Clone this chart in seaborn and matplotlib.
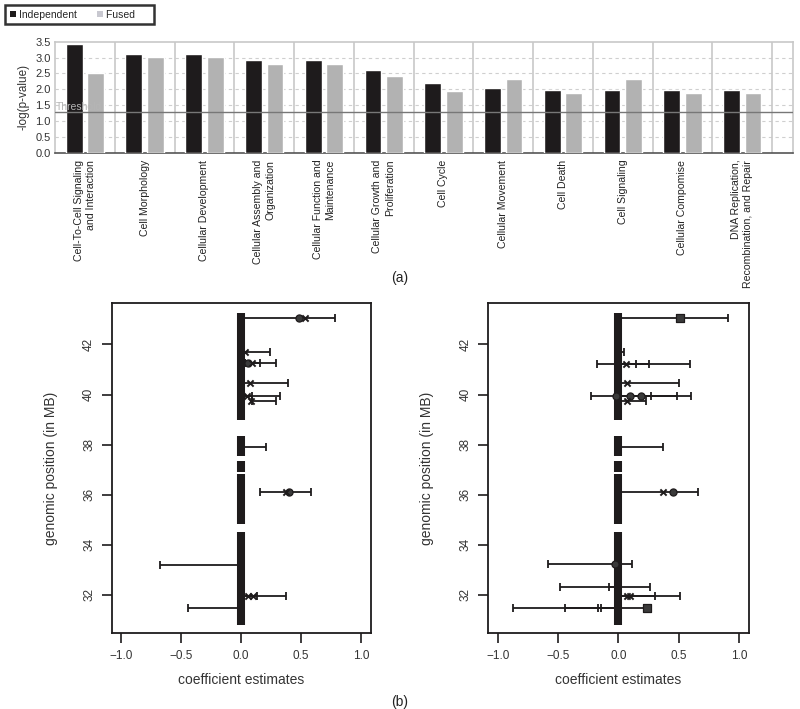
import numpy as np
import pandas as pd
import matplotlib
matplotlib.use("Agg")
import matplotlib.pyplot as plt
import seaborn as sns
from matplotlib.patches import Patch

# ---- panel (a) data ----
categories = [
    "Cell-To-Cell Signaling\nand Interaction", "Cell Morphology", "Cellular Development",
    "Cellular Assembly and\nOrganization", "Cellular Function and\nMaintenance",
    "Cellular Growth and\nProliferation", "Cell Cycle", "Cellular Movement", "Cell Death",
    "Cell Signaling", "Cellular Compomise", "DNA Replication,\nRecombination, and Repair",
]
independent = [3.42, 3.10, 3.10, 2.91, 2.91, 2.61, 2.19, 2.05, 1.97, 1.97, 1.97, 1.97]
fused = [2.50, 3.03, 3.03, 2.80, 2.80, 2.43, 1.96, 2.32, 1.87, 2.32, 1.87, 1.87]
threshold = 1.27

# ---- panel (b) data ----
# blocks of SNP positions (MB) shown as thick bar at 0
block_start = [43.26, 38.33, 37.34, 36.81, 34.53]
block_end = [38.97, 37.54, 36.90, 34.84, 30.80]

# independent (left): intervals
left_ci_y = [43.04, 41.70, 41.24, 41.24, 40.46, 39.96, 39.96, 39.73, 37.90, 36.10, 33.21, 31.97, 31.97, 31.49]
left_ci_lo = [0.0, 0.0, 0.03, 0.03, 0.0, 0.0, 0.0, 0.09, 0.0, 0.155, -0.68, 0.0, 0.0, -0.445]
left_ci_hi = [0.78, 0.24, 0.16, 0.29, 0.39, 0.09, 0.32, 0.29, 0.21, 0.585, 0.0, 0.13, 0.37, 0.0]
left_pt_y = [43.04, 43.04, 41.70, 41.24, 41.24, 40.46, 39.96, 39.73, 36.10, 36.10, 31.97, 31.97]
left_pt_x = [0.48, 0.53, 0.03, 0.06, 0.09, 0.07, 0.05, 0.08, 0.40, 0.37, 0.06, 0.10]
left_pt_m = ["o", "x", "x", "o", "x", "x", "x", "x", "o", "x", "x", "x"]

# fused (right): intervals
right_ci_y = [43.04, 41.70, 41.21, 41.21, 41.21, 40.46, 39.96, 39.96, 39.96, 39.73, 37.90, 36.10,
              33.24, 32.33, 32.33, 31.97, 31.97, 31.49, 31.49, 31.49, 31.49]
right_ci_lo = [0.0, 0.02, -0.18, 0.0, 0.0, 0.0, -0.23, 0.0, 0.0, 0.0, 0.0, 0.0,
               -0.58, -0.48, -0.08, 0.0, 0.0, -0.87, -0.44, -0.17, -0.14]
right_ci_hi = [0.91, 0.05, 0.59, 0.15, 0.255, 0.50, 0.60, 0.27, 0.49, 0.23, 0.37, 0.66,
               0.11, 0.26, 0.0, 0.51, 0.30, 0.24, 0.0, 0.0, 0.0]
right_pt_y = [43.04, 41.21, 40.46, 39.96, 39.96, 39.96, 39.73, 36.10, 36.10, 33.24, 31.97, 31.97, 31.49]
right_pt_x = [0.51, 0.06, 0.07, 0.10, 0.19, -0.02, 0.07, 0.37, 0.45, -0.03, 0.07, 0.10, 0.24]
right_pt_m = ["s", "x", "x", "o", "o", "o", "x", "x", "o", "o", "x", "x", "s"]

sns.set_theme(style="white")
plt.rcParams["font.family"] = ["Liberation Sans", "DejaVu Sans"]

W, H = 800, 709
fig = plt.figure(figsize=(8, 7.09), dpi=100)


def box(x0, y0, x1, y1):
    return [x0 / W, 1 - y1 / H, (x1 - x0) / W, (y1 - y0) / H]


# ================= panel (a) =================
ax = fig.add_axes(box(55, 41.7, 793, 152.7))
df = pd.DataFrame({
    "category": categories * 2,
    "value": independent + fused,
    "series": ["Independent"] * 12 + ["Fused"] * 12,
})
sns.barplot(data=df, x="category", y="value", hue="series",
            palette={"Independent": "#1e1b1c", "Fused": "#b2b2b2"},
            width=0.72, gap=0.22, saturation=1, ax=ax, legend=False, zorder=3)
ax.set_xlim(-0.5, 11.85)
ax.set_ylim(0, 3.5)
ax.set_yticks(np.arange(0, 3.51, 0.5))
ax.set_yticklabels([f"{v:.1f}" for v in np.arange(0, 3.51, 0.5)], fontsize=8, color="#333")
for v in np.arange(0.5, 3.5, 0.5):
    ax.axhline(v, color="#cfcfcf", ls=(0, (3, 3)), lw=0.8, zorder=1)
for i in range(12):
    ax.axvline(i + 0.5, color="#c8c8c8", lw=1.2, zorder=1)
ax.axhline(threshold, color="#777777", lw=1.0, zorder=4)
ax.text(-0.48, threshold + 0.01, "Threshold", fontsize=7.5, color="#b5b5b5", va="bottom", ha="left", zorder=5)
for s in ["top", "left", "right"]:
    ax.spines[s].set_color("#c8c8c8")
    ax.spines[s].set_linewidth(1.2)
ax.spines["bottom"].set_color("#555555")
ax.spines["bottom"].set_linewidth(1.2)
ax.tick_params(axis="both", length=0, pad=3)
ax.set_xticks(range(12))
ax.set_xticklabels(categories, rotation=90, fontsize=7.6, color="#222", va="top", ha="center",
                   multialignment="right", linespacing=1.3)
ax.tick_params(axis="x", pad=5)
ax.set_xlabel("")
ax.set_ylabel("-log(p-value)", fontsize=8.5, color="#333", labelpad=4)

handles = [Patch(facecolor="#1e1b1c", edgecolor="none", label="Independent"),
           Patch(facecolor="#c8c8d0", edgecolor="none", label="Fused     ")]
leg = fig.legend(handles=handles, loc="upper left", bbox_to_anchor=(5 / W, 1 - 5 / H), ncol=2,
                 fontsize=7.5, frameon=True, fancybox=False, handlelength=0.6, handleheight=0.6,
                 handletextpad=0.25, columnspacing=2.0, borderpad=0.45, borderaxespad=0)
leg.get_frame().set_edgecolor("black")
leg.get_frame().set_linewidth(1.8)

fig.text(0.5, 1 - 278 / H, "(a)", fontsize=10, ha="center", va="center", color="#222")


# ================= panel (b) =================
def coef_panel(ax, ci_y, ci_lo, ci_hi, pt_y, pt_x, pt_m):
    ax.vlines(np.zeros(len(block_start)), block_end, block_start, color="#1e1b1c", lw=5.8, zorder=2)
    lo = np.array(ci_lo)
    hi = np.array(ci_hi)
    ax.errorbar((lo + hi) / 2, ci_y, xerr=(hi - lo) / 2, fmt="none", ecolor="#1e1b1c",
                elinewidth=1.3, capsize=3, capthick=1.3, zorder=3)
    pts = pd.DataFrame({"x": pt_x, "y": pt_y, "m": pt_m})
    for m, g in pts.groupby("m"):
        if m == "x":
            sns.scatterplot(data=g, x="x", y="y", marker="x", s=20, color="#1e1b1c",
                            linewidth=1.4, ax=ax, zorder=4)
        else:
            sns.scatterplot(data=g, x="x", y="y", marker=m, s=26, color="#3a3a3a",
                            edgecolor="#1e1b1c", linewidth=0.9, ax=ax, zorder=4)
    ax.set_xlim(-1.08, 1.08)
    ax.set_ylim(30.47, 43.64)
    ax.set_xticks([-1.0, -0.5, 0.0, 0.5, 1.0])
    ax.set_xticklabels(["\u22121.0", "\u22120.5", "0.0", "0.5", "1.0"], fontsize=8.5, color="#333")
    ax.set_yticks([32, 34, 36, 38, 40, 42])
    ax.set_yticklabels(["32", "34", "36", "38", "40", "42"], fontsize=8.5, color="#333",
                       rotation=90, va="center")
    ax.tick_params(axis="both", direction="out", length=7, width=1.2, color="#1e1b1c", pad=5,
                   bottom=True, left=True)
    for s in ax.spines.values():
        s.set_color("#1e1b1c")
        s.set_linewidth(1.3)
    ax.set_xlabel("coefficient estimates", fontsize=10, color="#333", labelpad=8)
    ax.set_ylabel("genomic position (in MB)", fontsize=10, color="#333", labelpad=18)


axl = fig.add_axes(box(111.7, 303.3, 370.7, 633.3))
coef_panel(axl, left_ci_y, left_ci_lo, left_ci_hi, left_pt_y, left_pt_x, left_pt_m)
axr = fig.add_axes(box(488, 303.3, 748.7, 633.3))
coef_panel(axr, right_ci_y, right_ci_lo, right_ci_hi, right_pt_y, right_pt_x, right_pt_m)

fig.text(0.5, 1 - 702 / H, "(b)", fontsize=10, ha="center", va="center", color="#222")

fig.savefig("out.png", dpi=100)
